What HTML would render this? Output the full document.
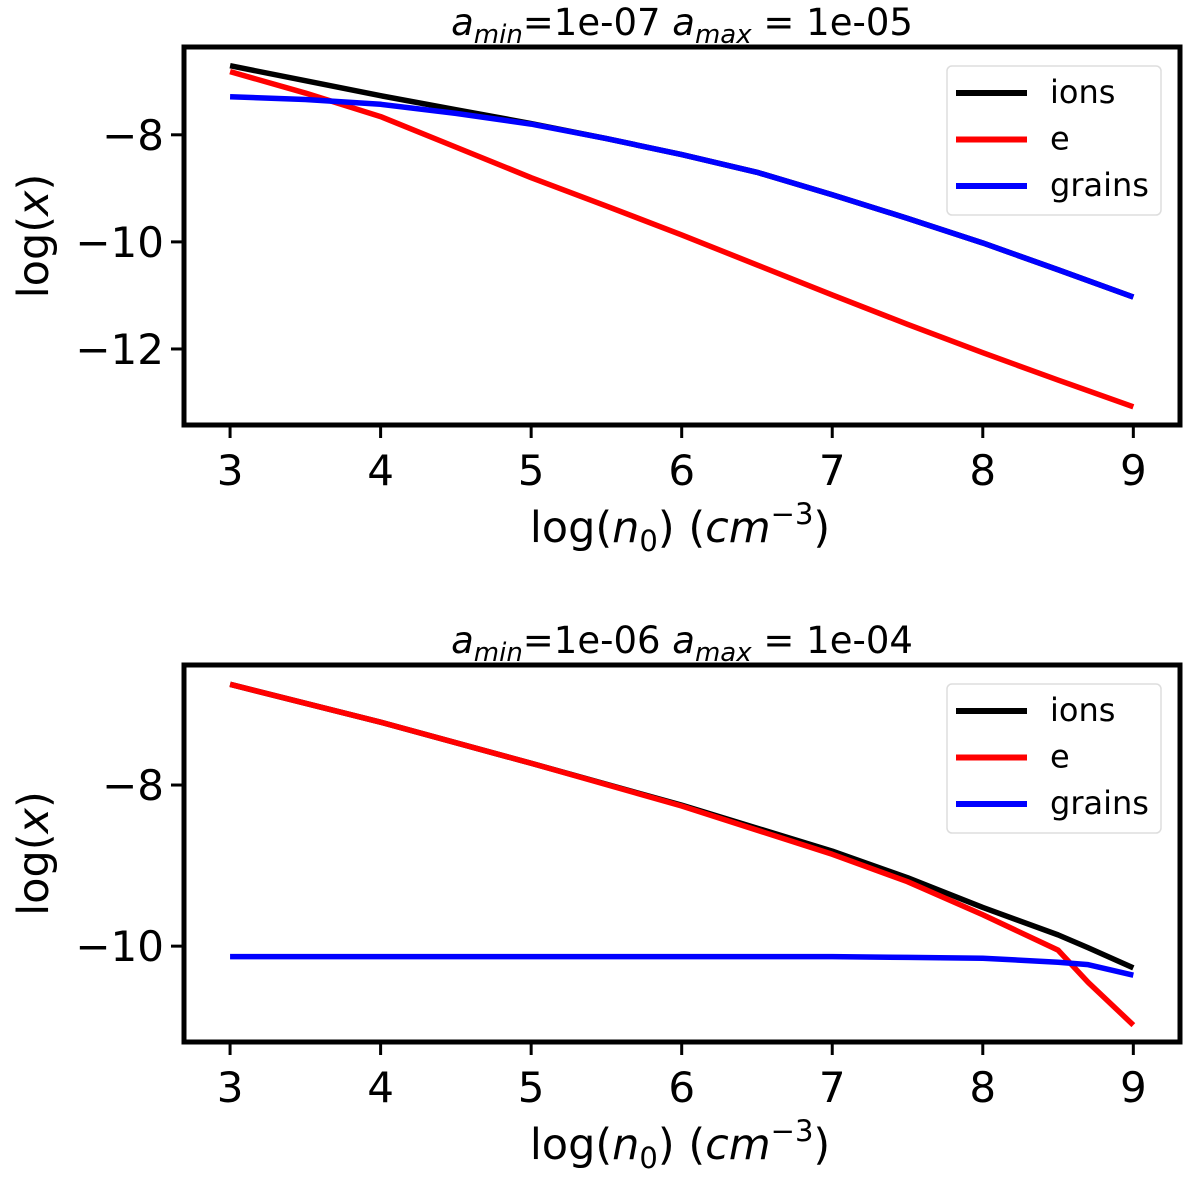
<!DOCTYPE html>
<html><head><meta charset="utf-8"><style>
body{margin:0;background:#fff}
svg text{font-family:"DejaVu Sans","Liberation Sans",sans-serif;fill:#000}
</style></head><body>
<svg id="chart" width="1200" height="1176" xmlns="http://www.w3.org/2000/svg"></svg>
<script>
const xCats = [3, 3.5, 4, 4.5, 5, 5.5, 6, 6.5, 7, 7.5, 8, 8.5, 9];
const xTicks = [3, 4, 5, 6, 7, 8, 9];
const top_ions = [-6.71, -6.99, -7.27, -7.53, -7.79, -8.07, -8.37, -8.7, -9.12, -9.56, -10.02, -10.52, -11.03];
const top_e = [-6.82, -7.22, -7.66, -8.23, -8.80, -9.33, -9.87, -10.43, -10.99, -11.54, -12.07, -12.58, -13.08];
const top_grains = [-7.29, -7.34, -7.43, -7.6, -7.8, -8.07, -8.37, -8.7, -9.12, -9.56, -10.02, -10.52, -11.03];
const top_yTicks = [-8, -10, -12];
const botX = [3, 4, 5, 6, 7, 7.5, 8, 8.5, 8.7, 9];
const bot_ions = [-6.75, -7.22, -7.73, -8.25, -8.82, -9.15, -9.52, -9.86, -10.02, -10.27];
const bot_e = [-6.75, -7.22, -7.73, -8.26, -8.86, -9.2, -9.61, -10.05, -10.45, -10.98];
const bot_grains = [-10.13, -10.13, -10.13, -10.13, -10.13, -10.14, -10.15, -10.2, -10.23, -10.36];
const bot_yTicks = [-8, -10];
const NS = "http://www.w3.org/2000/svg";
const svg = document.getElementById('chart');
function mk(tag, attrs, parent){const e=document.createElementNS(NS,tag);for(const k in attrs)e.setAttribute(k,attrs[k]);(parent||svg).appendChild(e);return e;}
function panel(name, box, xr, yr, xs, series, yTicks, title){
  const g = mk('g',{});
  
  
  const sx = v => box.x0 + (v - xr[0]) / (xr[1] - xr[0]) * (box.x1 - box.x0);
  const sy = v => box.y0 + (yr[0] - v) / (yr[0] - yr[1]) * (box.y1 - box.y0);
  series.forEach(s => {
    const p = mk('polyline',{points:xs.map((x,i)=>sx(x)+','+sy(s.vals[i])).join(' '),fill:'none',stroke:s.color,'stroke-width':5.5,'stroke-linejoin':'round'},g);
    
    
  });
  const frame = mk('rect',{x:box.x0,y:box.y0,width:box.x1-box.x0,height:box.y1-box.y0,fill:'none',stroke:'#000','stroke-width':5},g);
  
  
  xTicks.forEach(t => {
    const X = sx(t);
    mk('line',{x1:X,x2:X,y1:box.y1,y2:box.y1+13,stroke:'#000','stroke-width':3},g);
    const tx = mk('text',{x:X,y:box.y1+60,'text-anchor':'middle','font-size':42},g);
    tx.textContent = t;
    
    
  });
  yTicks.forEach(t => {
    const Y = sy(t);
    mk('line',{x1:box.x0-13,x2:box.x0,y1:Y,y2:Y,stroke:'#000','stroke-width':3},g);
    const tx = mk('text',{x:box.x0-20,y:Y+15,'text-anchor':'end','font-size':42},g);
    tx.textContent = '\u2212' + Math.abs(t);
    
    
  });
  const xt = mk('text',{x:(box.x0+box.x1)/2-2,y:box.y1+117,'text-anchor':'middle','font-size':43},g);
  xt.innerHTML = 'log(<tspan font-style="italic">n</tspan><tspan font-size="29" dy="9">0</tspan><tspan dy="-9">) (</tspan><tspan font-style="italic">cm</tspan><tspan font-size="29" dy="-18">\u22123</tspan><tspan dy="18">)</tspan>';
  
  
  const yt = mk('text',{x:0,y:0,'text-anchor':'middle','font-size':43,transform:`translate(48,${(box.y0+box.y1)/2}) rotate(-90)`},g);
  yt.innerHTML = 'log(<tspan font-style="italic">x</tspan>)';
  
  
  const tt = mk('text',{x:(box.x0+box.x1)/2,y:box.y0-12,'text-anchor':'middle','font-size':37},g);
  tt.innerHTML = '<tspan font-style="italic">a</tspan><tspan font-style="italic" font-size="26" dy="8">min</tspan><tspan dy="-8">=' + title[0] + ' </tspan><tspan font-style="italic">a</tspan><tspan font-style="italic" font-size="26" dy="8">max</tspan><tspan dy="-8"> = ' + title[1] + '</tspan>';
  
  
  const lg = mk('g',{},g);
  
  
  const ly = box.y0 + 19;
  mk('rect',{x:947,y:ly,width:214,height:149,rx:5,fill:'#fff',stroke:'#ddd','stroke-width':1.5},lg);
  series.forEach((s,i) => {
    const Y = ly + 27 + i*46.5;
    mk('line',{x1:956,x2:1027,y1:Y,y2:Y,stroke:s.color,'stroke-width':6},lg);
    const t = mk('text',{x:1050,y:Y+10,'font-size':32},lg);
    t.textContent = s.name;
    
    
  });
}
panel('top-panel', {x0:184,x1:1180,y0:47,y1:425}, [2.694,9.31], [-6.36,-13.42], xCats,
  [{name:'ions',color:'#000',vals:top_ions},{name:'e',color:'#ff0000',vals:top_e},{name:'grains',color:'#0000ff',vals:top_grains}],
  top_yTicks, ['1e-07','1e-05']);
panel('bottom-panel', {x0:184,x1:1180,y0:665,y1:1042}, [2.694,9.31], [-6.51,-11.19], botX,
  [{name:'ions',color:'#000',vals:bot_ions},{name:'e',color:'#ff0000',vals:bot_e},{name:'grains',color:'#0000ff',vals:bot_grains}],
  bot_yTicks, ['1e-06','1e-04']);
</script>
</body></html>
